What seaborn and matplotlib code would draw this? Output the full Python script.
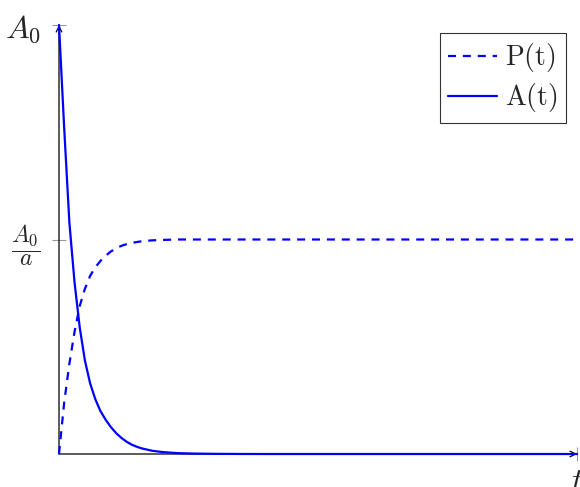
import numpy as np
import pandas as pd
import matplotlib
matplotlib.use('Agg')
import matplotlib.pyplot as plt
import seaborn as sns

sns.set_style('white')
plt.rcParams['mathtext.fontset'] = 'cm'
plt.rcParams['font.family'] = ['DejaVu Serif']

# values (A0 = 1, A0/a = 0.5)
t = [0, 0.1, 0.2, 0.3, 0.4, 0.5, 0.6, 0.7, 0.8, 0.9, 1.0, 1.1, 1.2, 1.3,
     1.4, 1.5, 1.6, 1.8, 2.0, 2.3, 2.6, 3.0, 3.5, 4, 5, 6, 7, 8, 9, 10]
A = [1.0, 0.76, 0.54, 0.40, 0.295, 0.218, 0.165, 0.128, 0.1, 0.08, 0.063,
     0.049, 0.038, 0.029, 0.022, 0.017, 0.013, 0.0075, 0.0045, 0.002, 0.001,
     0.0004, 0.0001, 0, 0, 0, 0, 0, 0, 0]
P = [0, 0.12, 0.21, 0.285, 0.345, 0.385, 0.415, 0.435, 0.45, 0.462, 0.472,
     0.479, 0.485, 0.489, 0.492, 0.494, 0.496, 0.498, 0.499, 0.5, 0.5,
     0.5, 0.5, 0.5, 0.5, 0.5, 0.5, 0.5, 0.5, 0.5]
ytick_vals = [0.5, 1.0]
ytick_labels = [r'$\dfrac{A_0}{a}$', r'$A_0$']
xtick_vals = [10]
xtick_labels = [r'$t$']

df = pd.DataFrame({'t': t, 'A': A, 'P': P})

fig = plt.figure(figsize=(5.8, 4.87), dpi=100)
ax = fig.add_axes([59/580, 33/487, 518/580, 429/487])

sns.lineplot(data=df, x='t', y='P', ax=ax, color='#0000ff', lw=1.6,
             label=r'$\mathrm{P(t)}$', clip_on=False)
ax.lines[-1].set_linestyle((0, (3.6, 3.1)))
sns.lineplot(data=df, x='t', y='A', ax=ax, color='#0000ff', lw=1.6,
             label=r'$\mathrm{A(t)}$', clip_on=False)

ax.set_xlim(0, 10)
ax.set_ylim(0, 1)
for s in ax.spines.values():
    s.set_visible(False)

# axes with arrows
ax.annotate('', xy=(1, 0), xytext=(0, 0), xycoords='axes fraction',
            arrowprops=dict(arrowstyle='->', color='black', lw=0.9,
                            shrinkA=0, shrinkB=0), zorder=1)
ax.annotate('', xy=(0, 1), xytext=(0, 0), xycoords='axes fraction',
            arrowprops=dict(arrowstyle='->', color='black', lw=0.9,
                            shrinkA=0, shrinkB=0), zorder=1)

ax.set_yticks(ytick_vals)
ax.set_yticklabels(ytick_labels)
ax.set_xticks(xtick_vals)
ax.set_xticklabels(xtick_labels)
ax.tick_params(axis='both', direction='inout', length=10, width=0.8,
               color='#999999', labelsize=23, left=True, bottom=True)
ax.tick_params(axis='y', pad=8)
ax.tick_params(axis='x', pad=4)
ax.get_yticklabels()[0].set_fontsize(17)

ax.set_xlabel('')
ax.set_ylabel('')

leg = ax.legend(loc='upper right', bbox_to_anchor=(0.979, 0.981), fontsize=20,
                frameon=True, fancybox=False, handlelength=1.75,
                borderpad=0.3, labelspacing=0.25, handletextpad=0.3,
                borderaxespad=0)
leg.get_frame().set_edgecolor('black')
leg.get_frame().set_linewidth(0.8)

plt.savefig('out.png', dpi=100)
